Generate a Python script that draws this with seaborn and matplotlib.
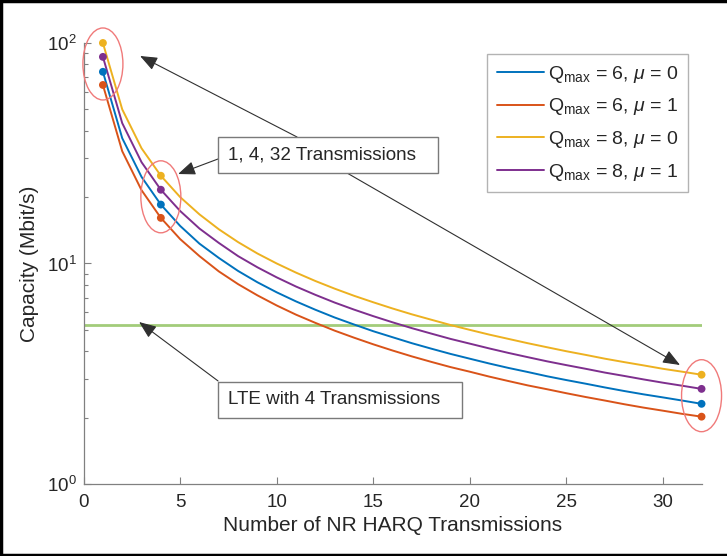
import numpy as np
import pandas as pd
import seaborn as sns
import matplotlib.pyplot as plt
from matplotlib.patches import Ellipse, Rectangle
from matplotlib.lines import Line2D
from matplotlib.ticker import LogLocator, NullFormatter

# ---------------- data ----------------
n_tx = list(range(1, 33))
cap_q6_mu0 = [74.0, 37.0, 24.7, 18.5, 14.8, 12.3, 10.6, 9.25, 8.22, 7.40, 6.73, 6.17,
              5.69, 5.29, 4.93, 4.63, 4.35, 4.11, 3.89, 3.70, 3.52, 3.36, 3.22, 3.08,
              2.96, 2.85, 2.74, 2.64, 2.55, 2.47, 2.39, 2.31]
cap_q6_mu1 = [64.5, 32.3, 21.5, 16.1, 12.9, 10.8, 9.21, 8.06, 7.17, 6.45, 5.86, 5.38,
              4.96, 4.61, 4.30, 4.03, 3.79, 3.58, 3.39, 3.23, 3.07, 2.93, 2.80, 2.69,
              2.58, 2.48, 2.39, 2.30, 2.22, 2.15, 2.08, 2.02]
cap_q8_mu0 = [100.0, 50.0, 33.3, 25.0, 20.0, 16.7, 14.3, 12.5, 11.1, 10.0, 9.09, 8.33,
              7.69, 7.14, 6.67, 6.25, 5.88, 5.56, 5.26, 5.00, 4.76, 4.55, 4.35, 4.17,
              4.00, 3.85, 3.70, 3.57, 3.45, 3.33, 3.23, 3.13]
cap_q8_mu1 = [86.5, 43.3, 28.8, 21.6, 17.3, 14.4, 12.4, 10.8, 9.61, 8.65, 7.86, 7.21,
              6.65, 6.18, 5.77, 5.41, 5.09, 4.81, 4.55, 4.33, 4.12, 3.93, 3.76, 3.60,
              3.46, 3.33, 3.20, 3.09, 2.98, 2.88, 2.79, 2.70]
series_labels = [r'Q$_{\mathrm{max}}$ = 6, $\mu$ = 0',
                 r'Q$_{\mathrm{max}}$ = 6, $\mu$ = 1',
                 r'Q$_{\mathrm{max}}$ = 8, $\mu$ = 0',
                 r'Q$_{\mathrm{max}}$ = 8, $\mu$ = 1']
series_colors = ['#0072BD', '#D95319', '#EDB120', '#7E2F8E']
lte_capacity = 5.26
marked_tx = [1, 4, 32]
x_ticks = [0, 5, 10, 15, 20, 25, 30]

df = pd.DataFrame({
    'n': n_tx * 4,
    'cap': cap_q6_mu0 + cap_q6_mu1 + cap_q8_mu0 + cap_q8_mu1,
    'series': sum([[s] * len(n_tx) for s in series_labels], []),
})

# ---------------- style ----------------
sns.set_theme(style='ticks')
plt.rcParams['font.family'] = ['Liberation Sans', 'DejaVu Sans']
plt.rcParams['mathtext.fontset'] = 'custom'
plt.rcParams['mathtext.rm'] = 'Liberation Sans'
plt.rcParams['mathtext.it'] = 'Liberation Sans:italic'
plt.rcParams['mathtext.sf'] = 'Liberation Sans'
FS_TICK = 13.5
FS_LABEL = 15
FS_LEG = 14
FS_NOTE = 13.6
txt_col = '#262626'
axis_col = '#808080'

fig = plt.figure(figsize=(7.27, 5.56), dpi=100)
ax = fig.add_axes([0.115, 0.1295, 0.85, 0.7932])

palette = dict(zip(series_labels, series_colors))
sns.lineplot(data=df, x='n', y='cap', hue='series', hue_order=series_labels,
             palette=palette, legend=False, lw=1.4, ax=ax, zorder=3)
sns.scatterplot(data=df[df['n'].isin(marked_tx)], x='n', y='cap', hue='series',
                hue_order=series_labels, palette=palette, legend=False,
                s=32, edgecolor='none', ax=ax, zorder=4)
for coll in ax.collections:
    coll.set_clip_on(False)
ax.axhline(lte_capacity, color='#a2cc7a', lw=2.0, zorder=2)

ax.set_yscale('log')
ax.set_xlim(0, 32)
ax.set_ylim(1, 100)
ax.set_xticks(x_ticks)
ax.yaxis.set_major_locator(LogLocator(base=10))
ax.yaxis.set_minor_locator(LogLocator(base=10, subs=np.arange(2, 10)))
ax.yaxis.set_minor_formatter(NullFormatter())

for side in ['top', 'right']:
    ax.spines[side].set_visible(False)
for side in ['left', 'bottom']:
    ax.spines[side].set_color(axis_col)
    ax.spines[side].set_linewidth(0.9)
ax.tick_params(which='both', direction='in', color=axis_col, labelcolor=txt_col,
               labelsize=FS_TICK, left=True, bottom=True, width=0.8)
ax.tick_params(which='major', length=5)
ax.tick_params(axis='x', which='major', pad=7)
ax.tick_params(axis='y', which='major', pad=5)
ax.tick_params(which='minor', length=3)

ax.set_xlabel('Number of NR HARQ Transmissions', fontsize=FS_LABEL, color=txt_col, labelpad=4)
ax.set_ylabel('Capacity (Mbit/s)', fontsize=FS_LABEL, color=txt_col, labelpad=6)

# legend
handles = [Line2D([0], [0], color=c, lw=1.4) for c in series_colors]
leg = ax.legend(handles, series_labels, loc='upper right', bbox_to_anchor=(0.978, 0.975),
                frameon=True, fancybox=False, edgecolor='#a0a0a0', fontsize=FS_LEG,
                handlelength=2.4, handletextpad=0.2, labelspacing=0.6, borderpad=0.5,
                borderaxespad=0.0)
leg.get_frame().set_linewidth(1.0)
for t in leg.get_texts():
    t.set_color(txt_col)

fig.canvas.draw()

# ---------------- annotations ----------------
AX_W_PX = ax.get_window_extent().width
AX_H_PX = ax.get_window_extent().height
cols = [cap_q6_mu0, cap_q6_mu1, cap_q8_mu0, cap_q8_mu1]
to_axes = lambda x, y: ax.transAxes.inverted().transform(ax.transData.transform((x, y)))
for n in marked_tx:
    vals = [c[n_tx.index(n)] for c in cols]
    ymid = np.sqrt(min(vals) * max(vals))
    cx, cy = to_axes(n, ymid)
    ax.add_patch(Ellipse((cx, cy), 40 / AX_W_PX, 72 / AX_H_PX, transform=ax.transAxes,
                         fill=False, ec='#f07a7a', lw=1.0, clip_on=False, zorder=5))

arrow_kw = dict(arrowstyle='-|>,head_length=0.75,head_width=0.3', color='#303030',
                lw=0.8, mutation_scale=14, shrinkA=0, shrinkB=0)
arrows = [((0.0914, 0.9705), (0.3454, 0.7868)),
          ((0.9651, 0.2698), (0.4263, 0.7052)),
          ((0.1529, 0.7029), (0.2176, 0.7370)),
          ((0.0898, 0.3673), (0.2176, 0.2336))]
for head, tail in arrows:
    ax.annotate('', xy=head, xytext=tail, xycoords='axes fraction',
                textcoords='axes fraction', arrowprops=arrow_kw, zorder=6,
                annotation_clip=False)

# text boxes: left edge / vertical centre in axes fraction; box fitted to text
boxes = [((0.2176, 0.746), '1, 4, 32 Transmissions'),
         ((0.2176, 0.1905), 'LTE with 4 Transmissions')]
renderer = fig.canvas.get_renderer()
bh = 36 / AX_H_PX
for (left, cy), label in boxes:
    t = ax.text(left + 10 / AX_W_PX, cy, label, transform=ax.transAxes, ha='left',
                va='center', fontsize=FS_NOTE, color=txt_col, zorder=8)
    tw = t.get_window_extent(renderer).width
    bw = (tw + 32) / AX_W_PX
    ax.add_patch(Rectangle((left, cy - bh / 2), bw, bh, transform=ax.transAxes,
                           fc='white', ec='#7a7a7a', lw=1.0, zorder=7, clip_on=False))

# black frame (left, top, bottom)
for xs, ys in [([0.0015, 0.0015], [0, 1]), ([0, 1], [0.998, 0.998]), ([0, 1], [0.0025, 0.0025])]:
    fig.add_artist(Line2D(xs, ys, transform=fig.transFigure, color='black', lw=2.5))

fig.savefig('out.png', dpi=100, facecolor='white')
